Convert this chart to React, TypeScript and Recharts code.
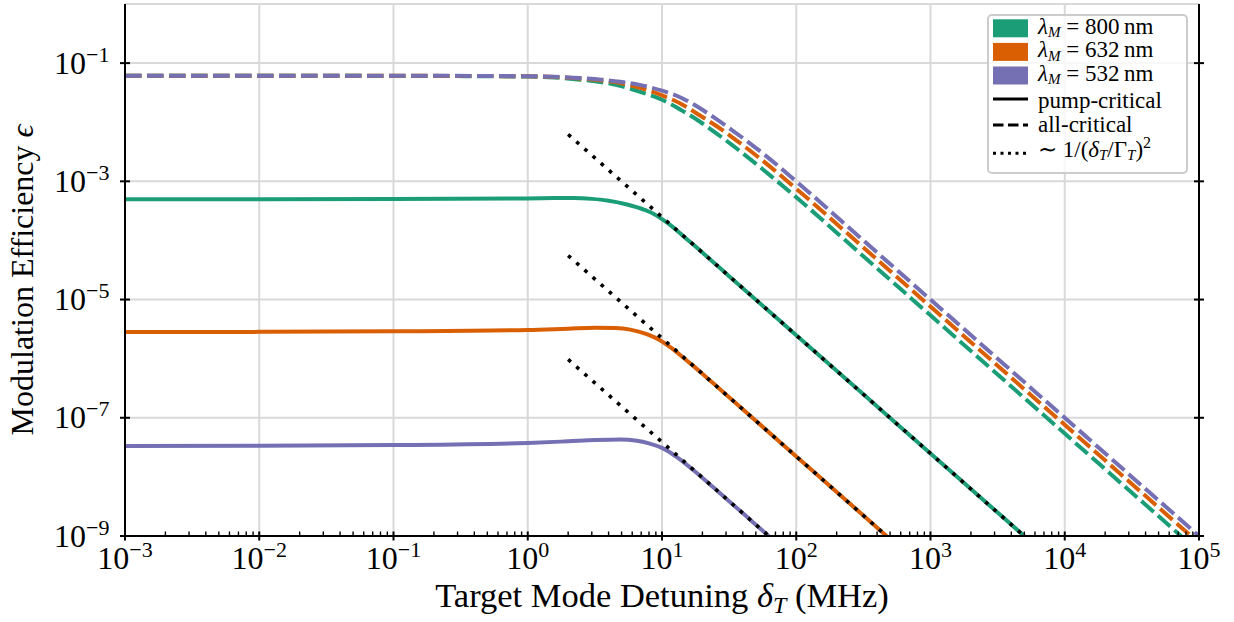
import React from 'react';
import { LineChart, Line, XAxis, YAxis, CartesianGrid, Legend } from 'recharts';

const FONT = '"Liberation Serif", "Times New Roman", Times, serif';
const COLOR_800 = '#1b9e77';
const COLOR_632 = '#d95f02';
const COLOR_532 = '#7570b3';

// ---- pump-critical (solid) ----
const pumpX800 = [0.001, 0.01, 0.1, 1, 1.585, 2.2, 3.0, 3.9, 5.4, 7.4, 8.5, 10, 12, 14.13, 17, 25.12, 31.62, 100, 316.2, 1000, 3162, 4990];
const pumpY800 = [5.0e-4, 5.0e-4, 5.02e-4, 5.12e-4, 5.2e-4, 5.22e-4, 5.05e-4, 4.75e-4, 4.1e-4, 3.3e-4, 2.88e-4, 2.29e-4, 1.7e-4, 1.23e-4, 8.6e-5, 3.95e-5, 2.49e-5, 2.49e-6, 2.49e-7, 2.49e-8, 2.49e-9, 1.0e-9];

const pumpX632 = [0.001, 0.01, 0.1, 1, 2, 3.2, 4.5, 5.8, 7.7, 8.8, 10, 12, 14.13, 17, 20, 24.1, 31.62, 100, 316.2, 471];
const pumpY632 = [2.82e-6, 2.84e-6, 2.9e-6, 3.05e-6, 3.22e-6, 3.34e-6, 3.3e-6, 3.1e-6, 2.6e-6, 2.29e-6, 1.95e-6, 1.46e-6, 1.08e-6, 7.62e-7, 5.55e-7, 3.82e-7, 2.22e-7, 2.22e-8, 2.22e-9, 1.0e-9];

const pumpX532 = [0.001, 0.01, 0.1, 1, 2, 3.2, 4.9, 6.5, 8, 10, 11.5, 13.6, 17, 24.1, 31.62, 50, 62.3];
const pumpY532 = [3.34e-8, 3.36e-8, 3.45e-8, 3.75e-8, 4.0e-8, 4.2e-8, 4.29e-8, 4.1e-8, 3.7e-8, 3.09e-8, 2.59e-8, 1.98e-8, 1.32e-8, 6.65e-9, 3.88e-9, 1.55e-9, 1.0e-9];

// ---- all-critical (dashed) ----
const allX800 = [0.001, 0.01, 0.1, 1, 1.585, 2.455, 3.548, 4.864, 7.079, 10, 14.13, 19.19, 25.12, 33.96, 56.23, 100, 316.2, 1000, 3162, 10000, 31623, 73500];
const allY800 = [0.061, 0.061, 0.0607, 0.0592, 0.057, 0.0525, 0.0475, 0.0414, 0.032, 0.024, 0.0157, 0.0102, 6.6e-3, 3.97e-3, 1.6e-3, 5.37e-4, 5.4e-5, 5.4e-6, 5.4e-7, 5.4e-8, 5.4e-9, 1.0e-9];

const allX632 = [0.001, 0.01, 0.1, 1, 1.585, 2.455, 3.548, 4.864, 7.079, 10, 14.13, 19.19, 25.12, 33.96, 56.23, 100, 316.2, 1000, 3162, 10000, 31623, 87200];
const allY632 = [0.0612, 0.0612, 0.061, 0.0597, 0.0582, 0.0548, 0.0508, 0.046, 0.0375, 0.0285, 0.02, 0.013, 8.8e-3, 5.4e-3, 2.24e-3, 7.5e-4, 7.6e-5, 7.6e-6, 7.6e-7, 7.6e-8, 7.6e-9, 1.0e-9];

const allX532 = [0.001, 0.01, 0.1, 1, 1.585, 2.455, 3.548, 4.864, 7.079, 10, 14.13, 19.19, 25.12, 33.96, 56.23, 100, 316.2, 1000, 3162, 10000, 31623, 100000];
const allY532 = [0.0612, 0.0612, 0.0611, 0.06, 0.0587, 0.056, 0.0525, 0.0483, 0.042, 0.0342, 0.0255, 0.0172, 0.0115, 7.1e-3, 2.99e-3, 1.0e-3, 1.0e-4, 1.0e-5, 1.0e-6, 1.0e-7, 1.0e-8, 1.0e-9];

// ---- ~1/(delta/Gamma)^2 asymptotes (dotted) ----
const asymX800 = [2, 4990];
const asymY800 = [6.22e-3, 1.0e-9];
const asymX632 = [2, 471];
const asymY632 = [5.55e-5, 1.0e-9];
const asymX532 = [2, 62.3];
const asymY532 = [9.7e-7, 1.0e-9];

// ---- ticks ----
const xMajorTicks = [1e-3, 1e-2, 1e-1, 1, 10, 100, 1000, 10000, 100000];
const xMajorLabels = ['\u22123', '\u22122', '\u22121', '0', '1', '2', '3', '4', '5'];
const xMinorMultipliers = [2, 3, 4, 5, 6, 7, 8, 9];
const yMajorTicks = [1e-9, 1e-7, 1e-5, 1e-3, 1e-1];
const yMajorLabels = ['\u22129', '\u22127', '\u22125', '\u22123', '\u22121'];

const legendWavelengths = ['800', '632', '532'];
const legendColors = [COLOR_800, COLOR_632, COLOR_532];

const xMinorTicks = xMajorTicks.slice(0, -1).flatMap((d) => xMinorMultipliers.map((m) => d * m));
const xAllTicks = [...xMajorTicks, ...xMinorTicks];

const toPoints = (xs: number[], ys: number[]) => xs.map((x, i) => ({ x, y: ys[i] }));

const DASH = '16.5 5.5';
const DOT = '3.6 7.3';

const series = [
  { id: 'p800', data: toPoints(pumpX800, pumpY800), color: COLOR_800, dash: undefined as string | undefined, width: 4 },
  { id: 'p632', data: toPoints(pumpX632, pumpY632), color: COLOR_632, dash: undefined, width: 4 },
  { id: 'p532', data: toPoints(pumpX532, pumpY532), color: COLOR_532, dash: undefined, width: 4 },
  { id: 'a800', data: toPoints(allX800, allY800), color: COLOR_800, dash: DASH, width: 4 },
  { id: 'a632', data: toPoints(allX632, allY632), color: COLOR_632, dash: DASH, width: 4 },
  { id: 'a532', data: toPoints(allX532, allY532), color: COLOR_532, dash: DASH, width: 4 },
  { id: 's800', data: toPoints(asymX800, asymY800), color: '#000', dash: DOT, width: 3.6 },
  { id: 's632', data: toPoints(asymX632, asymY632), color: '#000', dash: DOT, width: 3.6 },
  { id: 's532', data: toPoints(asymX532, asymY532), color: '#000', dash: DOT, width: 3.6 },
];

const TICK_FONT = 32;
const SUP_FONT = 22;

const XTickBottom = (props: any) => {
  const { x, y, payload } = props;
  const idx = xMajorTicks.indexOf(payload.value);
  if (idx < 0) {
    return <line x1={x} x2={x} y1={y} y2={y - 4.5} stroke="#000" strokeWidth={1.4} />;
  }
  return (
    <g>
      <line x1={x} x2={x} y1={y - 4.5} y2={y + 4.5} stroke="#000" strokeWidth={2} />
      <text x={x} y={y + 33} textAnchor="middle" fontFamily={FONT} fontSize={TICK_FONT} fill="#000">
        10<tspan fontSize={SUP_FONT} dy={-12}>{xMajorLabels[idx]}</tspan>
      </text>
    </g>
  );
};

const XTickTop = (props: any) => {
  const { x, y, payload } = props;
  const idx = xMajorTicks.indexOf(payload.value);
  if (idx < 0) {
    return <line x1={x} x2={x} y1={y} y2={y + 4.5} stroke="#000" strokeWidth={1.4} />;
  }
  return <line x1={x} x2={x} y1={y - 4.5} y2={y + 4.5} stroke="#000" strokeWidth={2} />;
};

const YTickLeft = (props: any) => {
  const { x, y, payload } = props;
  const idx = yMajorTicks.indexOf(payload.value);
  return (
    <g>
      <line x1={x - 5} x2={x + 5} y1={y} y2={y} stroke="#000" strokeWidth={2} />
      {idx >= 0 && (
        <text x={x - 15.5} y={y + 10.5} textAnchor="end" fontFamily={FONT} fontSize={TICK_FONT} fill="#000">
          10<tspan fontSize={SUP_FONT} dy={-12}>{yMajorLabels[idx]}</tspan>
        </text>
      )}
    </g>
  );
};

const YTickRight = (props: any) => {
  const { x, y } = props;
  return <line x1={x - 5} x2={x + 5} y1={y} y2={y} stroke="#000" strokeWidth={2} />;
};

const XTitle = (props: any) => {
  const vb = props.viewBox || { x: 125, y: 536, width: 1074, height: 86 };
  return (
    <text x={vb.x + vb.width / 2} y={vb.y + 71} textAnchor="middle" fontFamily={FONT} fontSize={34.5} fill="#000">
      Target Mode Detuning <tspan fontStyle="italic">δ</tspan>
      <tspan fontStyle="italic" fontSize={24} dy={6}>T</tspan>
      <tspan dy={-6}> (MHz)</tspan>
    </text>
  );
};

const YTitle = (props: any) => {
  const vb = props.viewBox || { x: 0, y: 4, width: 125, height: 532 };
  const cx = vb.x + 33;
  const cy = vb.y + vb.height / 2 + 10;
  return (
    <text x={cx} y={cy} transform={`rotate(-90, ${cx}, ${cy})`} textAnchor="middle" fontFamily={FONT} fontSize={32} fill="#000">
      Modulation Efficiency <tspan fontStyle="italic">ϵ</tspan>
    </text>
  );
};

const LEG_FONT = 23;
const LEG_SUB = 15;
const PAD = 10; // breathing room around the legend frame inside its svg

const LegendBox = () => {
  const lineRows = [
    { label: 'pump-critical', dash: undefined as string | undefined },
    { label: 'all-critical', dash: '10.5 4.5' },
  ];
  return (
    <svg width={202 + 2 * PAD} height={161 + 2 * PAD} style={{ display: 'block', overflow: 'visible' }}>
      <g transform={`translate(${PAD}, ${PAD})`}>
        <rect x={1} y={1} width={199} height={158} rx={4} fill="#fff" fillOpacity={0.8} stroke="#cccccc" strokeWidth={2} />
        {legendWavelengths.map((nm, i) => (
          <g key={nm}>
            <rect x={6} y={5.3 + i * 23.6} width={35} height={18} fill={legendColors[i]} />
            <text x={51} y={19.8 + i * 23.4} fontFamily={FONT} fontSize={LEG_FONT} fill="#000">
              <tspan fontStyle="italic">λ</tspan>
              <tspan fontStyle="italic" fontSize={LEG_SUB} dy={3.5}>M</tspan>
              <tspan dy={-3.5}>{` = ${nm}\u2009nm`}</tspan>
            </text>
          </g>
        ))}
        {lineRows.map((r, i) => (
          <g key={r.label}>
            <line x1={6} x2={41} y1={85 + i * 26} y2={85 + i * 26} stroke="#000" strokeWidth={3} strokeDasharray={r.dash} />
            <text x={51} y={93.8 + i * 24} fontFamily={FONT} fontSize={LEG_FONT} fill="#000">{r.label}</text>
          </g>
        ))}
        <line x1={6} x2={41} y1={139.3} y2={139.3} stroke="#000" strokeWidth={3} strokeDasharray="3 4.5" />
        <text x={51} y={142.5} fontFamily={FONT} fontSize={LEG_FONT} fill="#000">
          ∼ 1/(<tspan fontStyle="italic">δ</tspan>
          <tspan fontStyle="italic" fontSize={LEG_SUB} dy={3.5}>T</tspan>
          <tspan dy={-3.5}>/Γ</tspan>
          <tspan fontStyle="italic" fontSize={LEG_SUB} dy={3.5}>T</tspan>
          <tspan dy={-3.5}>)</tspan>
          <tspan fontSize={LEG_SUB + 1} dy={-9}>2</tspan>
        </text>
      </g>
    </svg>
  );
};

export default function App() {
  return (
    <div style={{ position: 'absolute', left: 0, top: 0, width: 1234, height: 622, background: '#fff' }}>
      <LineChart width={1234} height={622} margin={{ top: 4, right: 0, bottom: 0, left: 0 }}>
        <XAxis
          xAxisId="g"
          dataKey="x"
          type="number"
          scale="log"
          domain={[1e-3, 1e5]}
          ticks={xMajorTicks}
          allowDataOverflow
          hide
        />
        <CartesianGrid xAxisId="g" yAxisId="l" stroke="#d9d9d9" strokeWidth={2} />
        <XAxis
          xAxisId="b"
          dataKey="x"
          type="number"
          scale="log"
          domain={[1e-3, 1e5]}
          ticks={xAllTicks}
          interval={0}
          allowDataOverflow
          height={86}
          tickSize={0}
          tickMargin={0}
          tickLine={false}
          axisLine={{ stroke: '#000', strokeWidth: 2 }}
          tick={<XTickBottom />}
          label={<XTitle />}
        />
        <XAxis
          xAxisId="t"
          orientation="top"
          dataKey="x"
          type="number"
          scale="log"
          domain={[1e-3, 1e5]}
          ticks={xAllTicks}
          interval={0}
          allowDataOverflow
          height={0}
          tickSize={0}
          tickMargin={0}
          tickLine={false}
          axisLine={{ stroke: '#000', strokeWidth: 2 }}
          tick={<XTickTop />}
        />
        <YAxis
          yAxisId="l"
          type="number"
          scale="log"
          domain={[1e-9, 1]}
          ticks={yMajorTicks}
          interval={0}
          allowDataOverflow
          width={125}
          tickSize={0}
          tickMargin={0}
          tickLine={false}
          axisLine={{ stroke: '#000', strokeWidth: 2 }}
          tick={<YTickLeft />}
          label={<YTitle />}
        />
        <YAxis
          yAxisId="r"
          orientation="right"
          type="number"
          scale="log"
          domain={[1e-9, 1]}
          ticks={yMajorTicks}
          interval={0}
          allowDataOverflow
          width={35}
          tickSize={0}
          tickMargin={0}
          tickLine={false}
          axisLine={{ stroke: '#000', strokeWidth: 2 }}
          tick={<YTickRight />}
        />
        {series.map((s) => (
          <Line
            key={s.id}
            xAxisId="b"
            yAxisId="l"
            data={s.data}
            dataKey="y"
            type="monotone"
            stroke={s.color}
            strokeWidth={s.width}
            strokeDasharray={s.dash}
            dot={false}
            activeDot={false}
            isAnimationActive={false}
          />
        ))}
        <Legend
          layout="horizontal"
          verticalAlign="middle"
          align="center"
          content={() => <LegendBox />}
          wrapperStyle={{ left: 987 - PAD, top: 14 - PAD, width: 202 + 2 * PAD, height: 161 + 2 * PAD, right: 'auto', bottom: 'auto' }}
        />
      </LineChart>
    </div>
  );
}
